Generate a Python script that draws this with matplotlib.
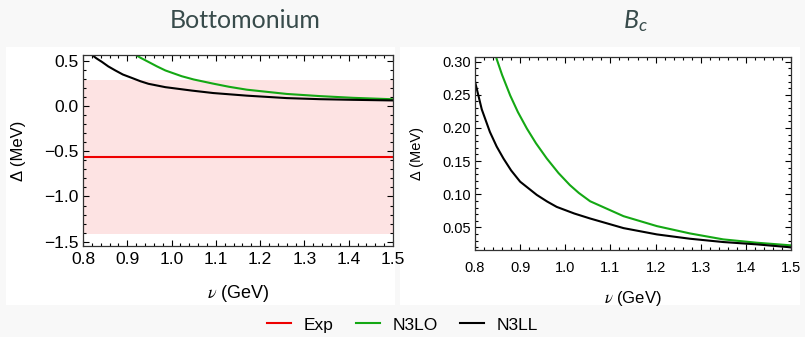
import numpy as np
import matplotlib
matplotlib.use('Agg')
import matplotlib.pyplot as plt
from matplotlib.ticker import MultipleLocator, FormatStrFormatter
from matplotlib.lines import Line2D

plt.rcParams['font.family'] = ['Liberation Sans', 'DejaVu Sans']
plt.rcParams['mathtext.fontset'] = 'stix'

# bottomonium: Delta (MeV) vs nu (GeV)
nu_bb_lo = [0.900, 0.914, 0.930, 0.948, 0.967, 0.986, 1.023, 1.050, 1.094, 1.130, 1.170,
            1.260, 1.335, 1.410, 1.500]
d_bb_lo = [0.630, 0.582, 0.535, 0.489, 0.440, 0.395, 0.331, 0.295, 0.249, 0.214, 0.182,
           0.135, 0.111, 0.092, 0.076]
nu_bb_ll = [0.800, 0.817, 0.830, 0.843, 0.857, 0.873, 0.890, 0.911, 0.930, 0.948, 0.986,
            1.046, 1.094, 1.170, 1.260, 1.335, 1.410, 1.500]
d_bb_ll = [0.700, 0.580, 0.530, 0.489, 0.440, 0.395, 0.350, 0.311, 0.275, 0.247, 0.210,
           0.172, 0.145, 0.116, 0.089, 0.077, 0.070, 0.063]
exp_central = -0.565
exp_err = 0.85

# B_c
nu_bc_lo = [0.840, 0.848, 0.860, 0.878, 0.895, 0.915, 0.935, 0.959, 0.985, 1.010, 1.030,
            1.055, 1.129, 1.203, 1.276, 1.350, 1.424, 1.500]
d_bc_lo = [0.330, 0.304, 0.280, 0.249, 0.224, 0.199, 0.177, 0.154, 0.132, 0.114, 0.102,
           0.0895, 0.067, 0.052, 0.041, 0.032, 0.027, 0.023]
nu_bc_ll = [0.800, 0.815, 0.833, 0.848, 0.863, 0.880, 0.900, 0.937, 0.960, 0.981, 1.020,
            1.055, 1.129, 1.203, 1.276, 1.350, 1.424, 1.500]
d_bc_ll = [0.270, 0.228, 0.194, 0.172, 0.154, 0.136, 0.119, 0.099, 0.089, 0.081, 0.071,
           0.0635, 0.049, 0.0395, 0.033, 0.028, 0.0245, 0.020]

RED = '#ee0000'
GREEN = '#14a814'
BLACK = '#000000'
PINK = '#fde3e3'
BG = '#f8f8f8'

fig = plt.figure(figsize=(8.05, 3.37), dpi=100)
fig.patch.set_facecolor(BG)

# white panels behind each plot
fig.add_artist(plt.Rectangle((6/805, 1-305/337), 389/805, 258/337, transform=fig.transFigure,
                             facecolor='white', edgecolor='none', zorder=0))
fig.add_artist(plt.Rectangle((400/805, 1-305/337), 400/805, 258/337, transform=fig.transFigure,
                             facecolor='white', edgecolor='none', zorder=0))

ax1 = fig.add_axes([83/805, 1-246/337, 310/805, 191/337])
ax2 = fig.add_axes([475/805, 1-250/337, 316/805, 193/337])


def style(ax, ymajor, yminor, yfmt, fs, xpad):
    ax.set_facecolor('white')
    ax.set_xlim(0.8, 1.5)
    ax.xaxis.set_major_locator(MultipleLocator(0.1))
    ax.xaxis.set_minor_locator(MultipleLocator(0.02))
    ax.xaxis.set_major_formatter(FormatStrFormatter('%.1f'))
    ax.yaxis.set_major_locator(MultipleLocator(ymajor))
    ax.yaxis.set_minor_locator(MultipleLocator(yminor))
    ax.yaxis.set_major_formatter(FormatStrFormatter(yfmt))
    ax.tick_params(which='both', direction='in', top=True, right=True, width=0.8,
                   labelsize=fs, pad=3)
    ax.tick_params(axis='x', pad=xpad)
    ax.tick_params(which='major', length=4)
    ax.tick_params(which='minor', length=2)
    for s in ax.spines.values():
        s.set_linewidth(0.9)
        s.set_color('#333333')


# left: bottomonium
ax1.axhspan(exp_central - exp_err, exp_central + exp_err, color=PINK, lw=0, zorder=0)
ax1.axhline(exp_central, color=RED, lw=1.5)
ax1.plot(nu_bb_lo, d_bb_lo, color=GREEN, lw=1.5)
ax1.plot(nu_bb_ll, d_bb_ll, color=BLACK, lw=1.5)
ax1.set_ylim(-1.548, 0.566)
style(ax1, 0.5, 0.1, '%.1f', 12.5, 4)
ax1.yaxis.set_major_formatter(plt.FuncFormatter(lambda v, p: ('%.1f' % v).replace('-', '\u2212')))
ax1.set_xlabel(r'$\nu$ (GeV)', fontsize=13, labelpad=12)
ax1.set_ylabel('\u0394 (MeV)', fontsize=12)
ax1.yaxis.set_label_coords(-0.184, 0.5)

# right: B_c
ax2.plot(nu_bc_lo, d_bc_lo, color=GREEN, lw=1.5)
ax2.plot(nu_bc_ll, d_bc_ll, color=BLACK, lw=1.5)
ax2.set_ylim(0.016, 0.307)
style(ax2, 0.05, 0.01, '%.2f', 10.5, 8)
ax2.set_xlabel(r'$\nu$ (GeV)', fontsize=12, labelpad=10)
ax2.set_ylabel('\u0394 (MeV)', fontsize=10.5)
ax2.yaxis.set_label_coords(-0.16, 0.5)

# titles
TCOL = '#384b4b'
fig.text(245/805, 1-21/337, 'Bottomonium', family='Lato', fontsize=18, color=TCOL,
         ha='center', va='center')
fig.text(631/805, 1-21/337, 'B', family='Lato', style='italic', fontsize=18,
         color=TCOL, ha='center', va='center')
fig.text(638/805, 1-26/337, 'c', family='Lato', style='italic', fontsize=13,
         color=TCOL, ha='left', va='center')

# legend
handles = [Line2D([], [], color=RED, lw=1.5),
           Line2D([], [], color=GREEN, lw=1.5),
           Line2D([], [], color=BLACK, lw=1.5)]
fig.legend(handles, ['Exp', 'N3LO', 'N3LL'], loc='center', bbox_to_anchor=(0.5, 1-325/337),
           ncol=3, frameon=False, fontsize=12.5, handlelength=1.4, handletextpad=0.7,
           columnspacing=1.3)

fig.savefig('out.png', dpi=100, facecolor=BG)
